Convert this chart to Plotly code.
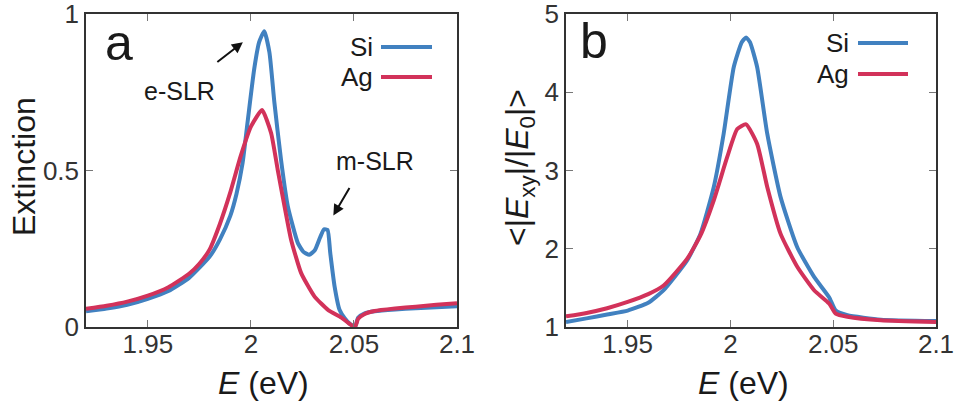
import plotly.graph_objects as go
from plotly.subplots import make_subplots

# ---------------- data ----------------
# Panel a: extinction
e_si_a = [1.92, 1.93, 1.94, 1.95, 1.96, 1.97, 1.98, 1.985, 1.99, 1.993, 1.996, 1.9984, 2.0016,
          2.004, 2.0065, 2.009, 2.0114, 2.0146, 2.0179, 2.0228, 2.0255, 2.0283, 2.031,
          2.0335, 2.0355, 2.0372, 2.0385, 2.0406, 2.043, 2.0455, 2.048, 2.0505, 2.052, 2.055,
          2.06, 2.07, 2.08, 2.09, 2.1]
ext_si = [0.050, 0.059, 0.071, 0.090, 0.115, 0.157, 0.225, 0.28, 0.355, 0.425, 0.525, 0.655,
          0.824, 0.91, 0.945, 0.877, 0.717, 0.535, 0.386, 0.268, 0.240, 0.231, 0.245,
          0.285, 0.312, 0.310, 0.237, 0.13, 0.055, 0.028, 0.010, 0.0, 0.030, 0.043,
          0.050, 0.056, 0.060, 0.063, 0.066]

e_ag_a = [1.92, 1.93, 1.94, 1.95, 1.96, 1.97, 1.975, 1.98, 1.985, 1.99, 1.995, 2.0,
          2.0054, 2.0098, 2.013, 2.0163, 2.0195, 2.0244, 2.0309, 2.0374, 2.0439, 2.0475,
          2.0505, 2.052, 2.055, 2.06, 2.07, 2.08, 2.09, 2.1]
ext_ag = [0.058, 0.068, 0.081, 0.100, 0.127, 0.170, 0.202, 0.248, 0.330, 0.430, 0.545, 0.640,
          0.693, 0.62, 0.503, 0.386, 0.279, 0.172, 0.097, 0.055, 0.030, 0.012,
          0.0, 0.026, 0.041, 0.051, 0.059, 0.065, 0.071, 0.076]

# Panel b: field enhancement
e_si_b = [1.92, 1.93, 1.94, 1.95, 1.96, 1.9675, 1.9789, 1.9854, 1.9919, 1.9967, 2.0016,
          2.0055, 2.0076, 2.0095, 2.013, 2.0179, 2.0244, 2.0325, 2.0407, 2.048, 2.0512,
          2.0569, 2.0732, 2.1]
enh_si = [1.064, 1.11, 1.16, 1.21, 1.31, 1.47, 1.85, 2.19, 2.79, 3.47, 4.32,
          4.64, 4.70, 4.64, 4.32, 3.47, 2.66, 2.02, 1.64, 1.38, 1.21,
          1.15, 1.094, 1.077]

e_ag_b = [1.92, 1.93, 1.94, 1.95, 1.96, 1.9675, 1.9789, 1.9854, 1.9919, 1.9984, 2.0033,
          2.0076, 2.013, 2.0179, 2.0244, 2.0325, 2.0407, 2.048, 2.0512, 2.0569, 2.0732, 2.1]
enh_ag = [1.136, 1.18, 1.24, 1.32, 1.42, 1.53, 1.87, 2.17, 2.62, 3.17, 3.53,
          3.59, 3.34, 2.79, 2.19, 1.77, 1.47, 1.30, 1.17, 1.13, 1.085, 1.064]

x_ticks = [1.95, 2.0, 2.05, 2.1]
x_tick_labels = ["1.95", "2", "2.05", "2.1"]
y_ticks_a = [0, 0.5, 1]
y_tick_labels_a = ["0", "0.5", "1"]
y_ticks_b = [1, 2, 3, 4, 5]
y_tick_labels_b = ["1", "2", "3", "4", "5"]

series_names = ["Si", "Ag"]
BLUE = "#4181c0"
RED = "#d2325a"
colors = [BLUE, RED]

# ---------------- figure ----------------
W, H = 955, 404
FONT = "Liberation Sans, Arial, Helvetica, sans-serif"

fig = make_subplots(rows=1, cols=2)

LINE = dict(width=4, shape="spline", smoothing=0.5)
for xs, ys, c in [(e_si_a, ext_si, BLUE), (e_ag_a, ext_ag, RED)]:
    fig.add_trace(go.Scatter(x=xs, y=ys, mode="lines", line=dict(color=c, **LINE),
                             cliponaxis=False, showlegend=False), row=1, col=1)
for xs, ys, c in [(e_si_b, enh_si, BLUE), (e_ag_b, enh_ag, RED)]:
    fig.add_trace(go.Scatter(x=xs, y=ys, mode="lines", line=dict(color=c, **LINE),
                             cliponaxis=False, showlegend=False), row=1, col=2)

def px(x):
    return x / W

def py(y):
    return 1 - y / H

ydom = [py(327), py(14)]
axis_common = dict(showline=True, mirror="ticks", linecolor="#333", linewidth=1.5,
                   ticks="inside", ticklen=7, tickwidth=1, tickcolor="#777",
                   showgrid=False, zeroline=False, automargin=False,
                   ticklabeloverflow="allow",
                   tickfont=dict(family=FONT, size=26, color="#333"))

fig.update_xaxes(axis_common)
fig.update_yaxes(axis_common)
fig.update_xaxes(ticklabelstandoff=-7)
fig.update_xaxes(domain=[px(86), px(457)], range=[1.92, 2.1], tickvals=x_ticks,
                 ticktext=x_tick_labels, row=1, col=1)
fig.update_xaxes(domain=[px(566), px(936)], range=[1.92, 2.1], tickvals=x_ticks,
                 ticktext=x_tick_labels, row=1, col=2)
fig.update_yaxes(domain=ydom, range=[0, 1], tickvals=y_ticks_a, ticktext=y_tick_labels_a,
                 row=1, col=1)
fig.update_yaxes(domain=ydom, range=[1, 5], tickvals=y_ticks_b, ticktext=y_tick_labels_b,
                 row=1, col=2)

ann = []
TXT = "#1a1a1a"

def label(text, x, y, size, xanchor="center", yanchor="middle", angle=0):
    ann.append(dict(text=text, x=px(x), y=py(y), xref="paper", yref="paper",
                    xanchor=xanchor, yanchor=yanchor, textangle=angle, showarrow=False,
                    font=dict(family=FONT, size=size, color=TXT)))

# axis titles
label("Extinction", 24, 167, 32, angle=-90)
label("&lt;|<i>E</i><sub>xy</sub>|/|<i>E</i><sub>0</sub>|&gt;", 520, 168, 32, angle=-90)
label("<i>E</i> (eV)", 263, 383, 32)
label("<i>E</i> (eV)", 743, 383, 32)
# panel letters
label("a", 103, 43, 50, xanchor="left")
label("b", 578, 41, 50, xanchor="left")
# resonance labels
label("e-SLR", 179, 91, 25)
label("m-SLR", 375, 161, 25)
# arrows
ann.append(dict(text="", x=1.9961, y=0.91, xref="x", yref="y", ax=-27, ay=21,
                showarrow=True, arrowhead=2, arrowsize=1.1, arrowwidth=2, arrowcolor="#111"))
ann.append(dict(text="", x=2.0400, y=0.356, xref="x", yref="y", ax=17, ay=-29,
                showarrow=True, arrowhead=2, arrowsize=1.1, arrowwidth=2, arrowcolor="#111"))

# legends (text on the left, line sample on the right)
shapes = []
for (tx, lx0, lx1, ys) in [(375, 381, 432, (47, 77)), (851, 858, 908, (43, 74))]:
    for name, c, yy in zip(series_names, colors, ys):
        label(name, tx, yy, 26, xanchor="right")
        shapes.append(dict(type="line", xref="paper", yref="paper", x0=px(lx0), x1=px(lx1),
                           y0=py(yy), y1=py(yy), line=dict(color=c, width=4)))

fig.update_layout(template="none", width=W, height=H,
                  margin=dict(l=0, r=0, t=0, b=0, pad=0, autoexpand=False),
                  paper_bgcolor="white", plot_bgcolor="white",
                  annotations=ann, shapes=shapes, showlegend=False,
                  font=dict(family=FONT))

fig.write_html("out.html")
